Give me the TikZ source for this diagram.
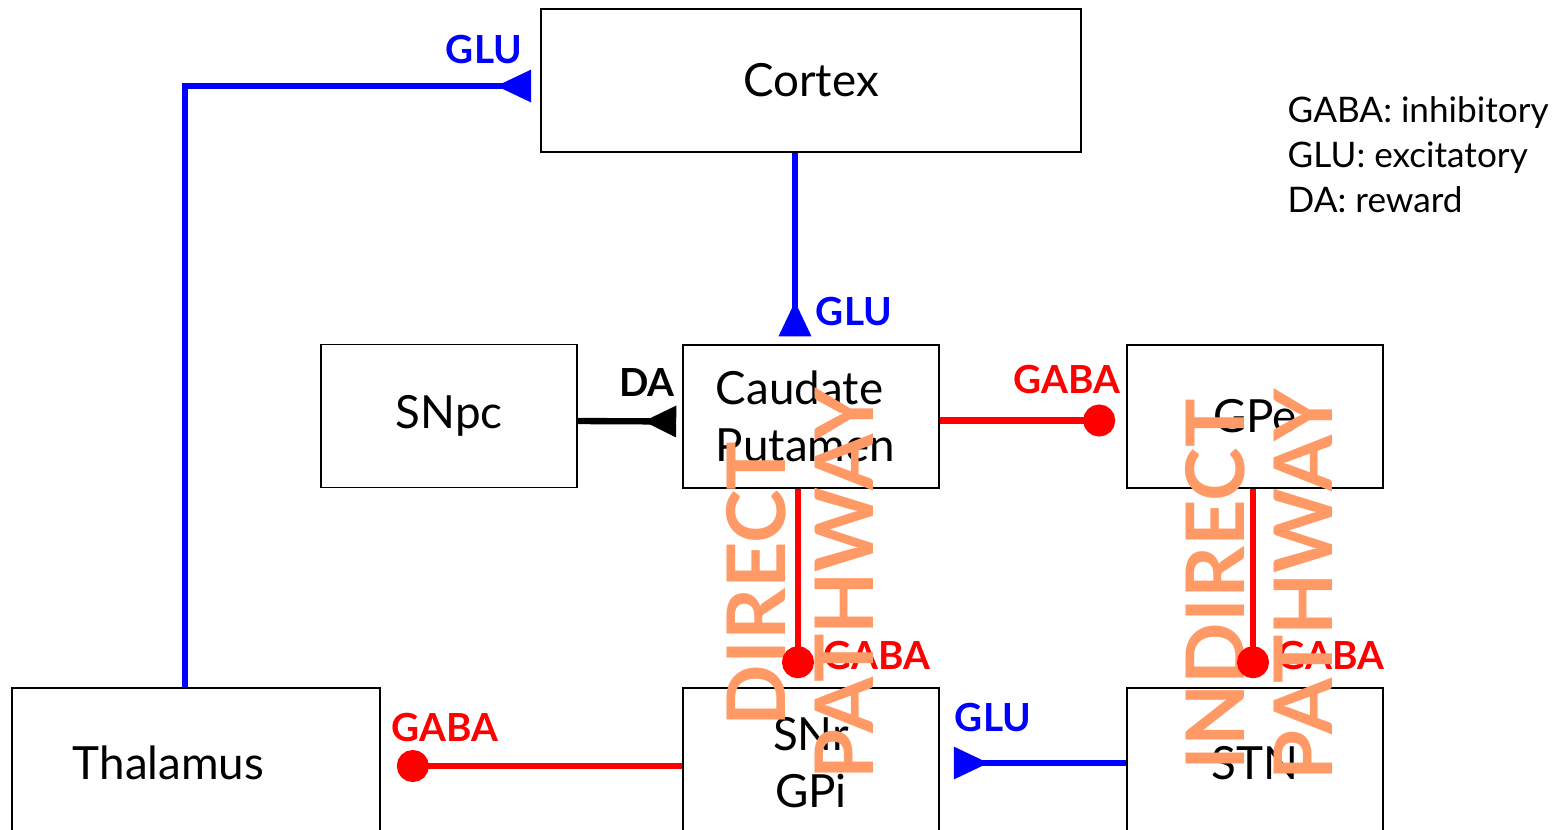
\documentclass[tikz,border=0pt]{standalone}
\usepackage{fontspec}
\setmainfont{Lato}
\usetikzlibrary{arrows.meta}

\definecolor{pathorange}{RGB}{255,153,102}

\tikzset{
  box/.style={draw, line width=0.4pt, minimum width=2.56cm, minimum height=1.43cm, inner sep=0pt, font=\fontsize{13}{16.2}\selectfont},
  tag/.style={inner sep=0pt, font=\bfseries\fontsize{11}{12}\selectfont},
  glu/.style={blue, line width=1.8pt, -{Triangle[reversed, length=0.35cm, width=0.31cm]}},
  dopa/.style={black, line width=1.8pt, -{Triangle[reversed, length=0.33cm, width=0.3cm]}},
  gaba/.style={red, line width=1.8pt, -{Circle[length=0.32cm]}},
  pathway/.style={pathorange, rotate=90, align=center, inner sep=0pt, font=\bfseries\fontsize{23}{25}\selectfont}
}

\begin{document}
\begin{tikzpicture}[x=0.01cm, y=-0.01cm]
\useasboundingbox (0,0) rectangle (1564,829);
\clip (0,0) rectangle (1564,829);

% boxes
\node[box, minimum width=5.4cm] (cortex) at (811,80.5) {Cortex};
\node[box] (snpc) at (449,416) {SNpc};
\node[box, text width=1.9cm, align=left] (caudate) at (811,416.5) {Caudate\\Putamen};
\node[box] (gpe) at (1255,416.5) {GPe};
\node[box, minimum width=3.68cm, minimum height=1.5cm, text width=2.46cm, align=left] (thalamus) at (196,763) {Thalamus};
\node[box, minimum height=1.5cm, align=center] (snr) at (811,763) {SNr\\GPi};
\node[box, minimum height=1.5cm] (stn) at (1255,763) {STN};

% transmitter labels
\node[tag, blue] (gluctx) at (484,50) {GLU};
\node[tag, blue] (glucp) at (854,311) {GLU};
\node[tag] (da) at (647,382) {DA};
\node[tag, red] (gabagpe) at (1067,379) {GABA};
\node[tag, red] (gabasnr) at (877,655) {GABA};
\node[tag, red] (gabastn) at (1331,655) {GABA};
\node[tag, red] (gabathal) at (445,727) {GABA};
\node[tag, blue] (glusnr) at (993,717) {GLU};

% legend
\node[anchor=west, align=left, inner sep=0pt, font=\fontsize{10}{12.8}\selectfont] (legend) at (1287,155)
  {GABA: inhibitory\\GLU: excitatory\\DA: reward};

% pathways
\node[pathway] (direct) at (800,584) {DIRECT\\PATHWAY};
\node[pathway] (indirect) at (1259,585) {INDIRECT\\PATHWAY};

% connections
\draw[glu, shorten >=0.09cm] ([xshift=-0.11cm]thalamus.north) |- ([yshift=-0.055cm]cortex.west);
\draw[glu, shorten >=0.08cm] ([xshift=-0.16cm]cortex.south) -- ([xshift=-0.16cm]caudate.north);
\draw[dopa, shorten >=0.06cm] ([yshift=-0.05cm]snpc.east) -- ([yshift=-0.05cm]caudate.west);
\draw[gaba, shorten >=0.11cm] ([yshift=-0.04cm]caudate.east) -- ([yshift=-0.04cm]gpe.west);
\draw[gaba, shorten >=0.09cm] ([xshift=-0.13cm]caudate.south) -- ([xshift=-0.13cm]snr.north);
\draw[gaba, shorten >=0.09cm] ([xshift=-0.02cm]gpe.south) -- ([xshift=-0.02cm]stn.north);
\draw[gaba, shorten >=0.16cm] ([yshift=-0.03cm]snr.west) -- ([yshift=-0.03cm]thalamus.east);
\draw[glu, shorten >=0.14cm] (stn.west) -- (snr.east);
\end{tikzpicture}
\end{document}
